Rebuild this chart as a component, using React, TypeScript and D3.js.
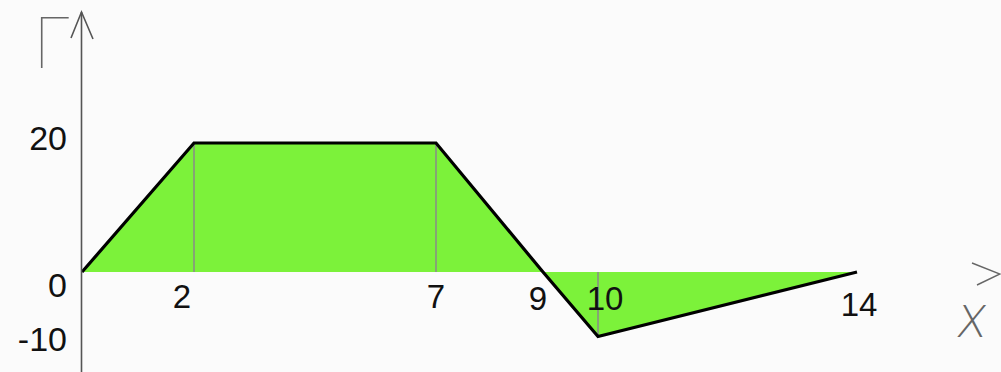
import React from "react";
import * as d3 from "d3";

const xValues = [0, 2, 7, 9, 10, 14];
const yValues = [0, 20, 20, 0, -10, 0];
const guideXs = [2, 7, 10];
const xTickLabels = ["2", "7", "9", "10", "14"];
const xTickValues = [2, 7, 9, 10, 14];
const yTickValues = [20, 0, -10];

const W = 1001;
const H = 372;

export default function App() {
  // hand-drawn horizontal axis: piecewise linear scale
  const x = d3
    .scaleLinear()
    .domain([0, 2, 7, 9, 10, 14])
    .range([82, 194, 436, 543, 598, 857]);
  const y = d3.scaleLinear().domain([-10, 20]).range([336.5, 143]);

  const pts: [number, number][] = xValues.map((v, i) => [v, yValues[i]]);
  const area = d3
    .area<[number, number]>()
    .x((d) => x(d[0]))
    .y0(y(0))
    .y1((d) => y(d[1]));
  const line = d3
    .line<[number, number]>()
    .x((d) => x(d[0]))
    .y((d) => y(d[1]));

  const labelDx: Record<string, number> = { "2": -12, "7": 0, "9": -5, "10": 7, "14": 2 };
  const labelY: Record<string, number> = { "2": 308, "7": 308, "9": 310, "10": 310, "14": 316 };

  return (
    <svg
      width={W}
      height={H}
      style={{ position: "absolute", left: 0, top: 0, background: "#fbfbfb" }}
    >
      <rect x={0} y={0} width={W} height={H} fill="#fbfbfb" />
      <path d={area(pts) ?? ""} fill="#7cf23a" stroke="none" />
      {guideXs.map((g) => {
        const idx = xValues.indexOf(g);
        return (
          <line
            key={g}
            x1={x(g)}
            x2={x(g)}
            y1={y(0)}
            y2={y(yValues[idx])}
            stroke="#8a8a8a"
            strokeWidth={1.5}
          />
        );
      })}
      <path d={line(pts) ?? ""} fill="none" stroke="#000" strokeWidth={3.2} strokeLinejoin="miter" />
      {/* y axis */}
      <line x1={81.5} x2={81.5} y1={H} y2={12} stroke="#555" strokeWidth={1.6} />
      <path d="M71,38 L81.5,12 L93,39" fill="none" stroke="#555" strokeWidth={1.6} />
      {/* x axis arrow head */}
      <path d="M972,263 L1000,274 L977,285" fill="none" stroke="#666" strokeWidth={1.4} />
      {/* axis titles */}
      <text
        x={33}
        y={68}
        fontFamily="Inter, Lato, DejaVu Sans"
        fontWeight={100}
        fontSize={70}
        fill="#666"
      >
        Г
      </text>
      <text
        x={955}
        y={337}
        fontFamily="DejaVu Sans"
        fontWeight={200}
        fontSize={44}
        fill="#666"
        transform="skewX(-8) translate(47,0)"
      >
        X
      </text>
      {/* y tick labels */}
      {yTickValues.map((v) => (
        <text
          key={v}
          x={67}
          y={y(v) + (v === 20 ? 7 : v === 0 ? 25 : 14)}
          textAnchor="end"
          fontFamily="Liberation Sans, Arial, sans-serif"
          fontSize={34}
          fill="#111"
        >
          {v}
        </text>
      ))}
      {/* x tick labels */}
      {xTickValues.map((v, i) => (
        <text
          key={v}
          x={x(v) + labelDx[xTickLabels[i]]}
          y={labelY[xTickLabels[i]]}
          textAnchor="middle"
          fontFamily="Liberation Sans, Arial, sans-serif"
          fontSize={33}
          fill="#111"
        >
          {xTickLabels[i]}
        </text>
      ))}
    </svg>
  );
}
